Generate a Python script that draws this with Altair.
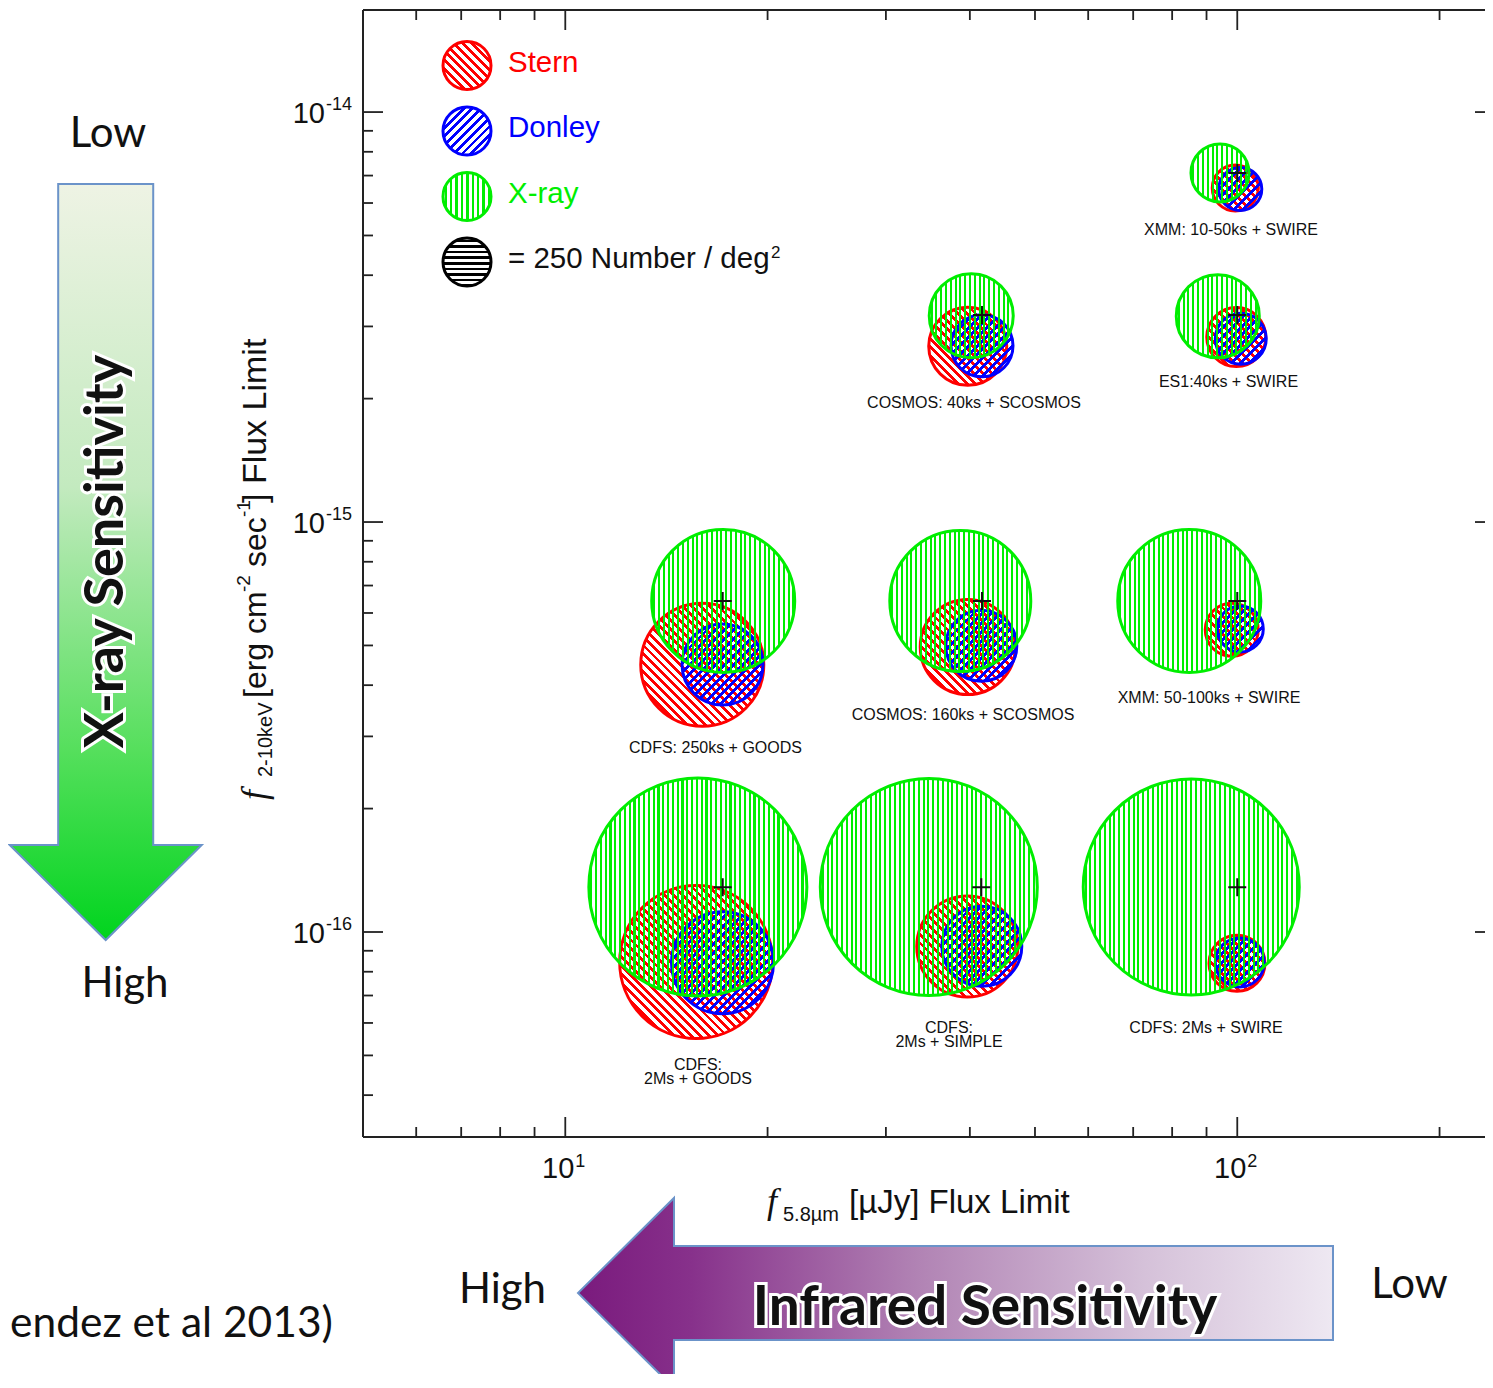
import math
import altair as alt
import pandas as pd

# ---------------- data ----------------
groups = ["XMM: 10-50ks + SWIRE", "ES1:40ks + SWIRE", "COSMOS: 40ks + SCOSMOS",
          "CDFS: 250ks + GOODS", "COSMOS: 160ks + SCOSMOS", "XMM: 50-100ks + SWIRE",
          "CDFS: 2Ms + GOODS", "CDFS: 2Ms + SIMPLE", "CDFS: 2Ms + SWIRE"]
ir_limit = [100, 100, 41.7, 17.15, 41.7, 100, 17.15, 41.6, 100]          # uJy
xray_limit = [7.1e-15, 3.2e-15, 3.2e-15, 6.42e-16, 6.42e-16, 6.42e-16,
              1.285e-16, 1.285e-16, 1.285e-16]                          # erg/cm2/s

# circle centres (IR flux, X-ray flux) and surface density (number / deg^2)
xray_x = [94.25, 93.54, 40.19, 17.18, 38.71, 84.83, 15.75, 34.75, 85.41]
xray_y = [7.106e-15, 3.176e-15, 3.184e-15, 6.418e-16, 6.418e-16, 6.418e-16,
          1.288e-16, 1.288e-16, 1.288e-16]
xray_n = [365, 748, 766, 2219, 2157, 2219, 5157, 5109, 5063]

stern_x = [99.32, 99.66, 39.71, 15.99, 39.71, 98.13, 15.66, 39.65, 99.90]
stern_y = [6.527e-15, 2.826e-15, 2.683e-15, 4.486e-16, 4.956e-16, 5.462e-16,
           8.450e-17, 9.218e-17, 8.389e-17]
stern_n = [230, 378, 660, 1642, 979, 305, 2540, 1107, 340]

donley_x = [101.03, 101.2, 41.70, 17.14, 41.60, 101.03, 17.14, 41.67, 100.86]
donley_y = [6.490e-15, 2.800e-15, 2.690e-15, 4.491e-16, 4.990e-16, 5.483e-16,
            8.417e-17, 9.228e-17, 8.427e-17]
donley_n = [201, 282, 417, 712, 547, 230, 1129, 694, 260]

legend_names = ["Stern", "Donley", "X-ray"]
legend_n = 250

x_major = [10, 100]
x_minor = [6, 7, 8, 9, 20, 30, 40, 50, 60, 70, 80, 90, 200]
y_major = [1e-14, 1e-15, 1e-16]
y_minor = [4e-17, 5e-17, 6e-17, 7e-17, 8e-17, 9e-17,
           2e-16, 3e-16, 4e-16, 5e-16, 6e-16, 7e-16, 8e-16, 9e-16,
           2e-15, 3e-15, 4e-15, 5e-15, 6e-15, 7e-15, 8e-15, 9e-15]

# ---------------- layout / style ----------------
W, H = 1122, 1127
X_DOMAIN = [5.0, 233.7]
Y_DOMAIN = [3.162e-17, 1.774e-14]
LEG_DIAM = 48.0
SIZE_RANGE = [0, LEG_DIAM * LEG_DIAM]

RED, BLUE, GREEN, BLACK = "#ff0000", "#0000ff", "#00ee00", "#111111"
CLEAR = "rgba(255,255,255,0)"
FONT = "Liberation Sans"
SERIF = "Liberation Serif"
DISP = "Lato"

xs = alt.Scale(type="log", domain=X_DOMAIN, nice=False)
ys = alt.Scale(type="log", domain=Y_DOMAIN, nice=False)
ss = alt.Scale(type="linear", domain=[0, legend_n], range=SIZE_RANGE, zero=True)

dummy = pd.DataFrame({"d": [0]})


def hatch(color, diam, period, frac, kind):
    if kind == "v":
        vec, length = (0, 0, 1, 0), diam
    elif kind == "h":
        vec, length = (0, 0, 0, 1), diam
    elif kind == "bs":   # "\" lines
        vec, length = (0, 1, 1, 0), diam * math.sqrt(2)
    else:                # "/" lines
        vec, length = (0, 0, 1, 1), diam * math.sqrt(2)
    stops = []
    t = period * 0.3
    stops.append({"offset": 0, "color": CLEAR})
    stops.append({"offset": round(t / length, 5), "color": CLEAR})
    while t < length:
        a = t / length
        b = min((t + period * frac) / length, 1.0)
        c = min((t + period) / length, 1.0)
        stops += [{"offset": round(a, 5), "color": color},
                  {"offset": round(b, 5), "color": color},
                  {"offset": round(b, 5), "color": CLEAR},
                  {"offset": round(c, 5), "color": CLEAR}]
        t += period
    return {"gradient": "linear", "x1": vec[0], "y1": vec[1], "x2": vec[2],
            "y2": vec[3], "stops": stops}


def diam_of(n):
    return math.sqrt(n * SIZE_RANGE[1] / legend_n)


def circle_layer(x, y, n, color, kind, period, frac=0.45):
    df = pd.DataFrame({"x": [x], "y": [y], "n": [n]})
    return alt.Chart(df).mark_point(
        shape="circle", filled=True, fill=hatch(color, diam_of(n), period, frac, kind),
        stroke=color, strokeWidth=3, opacity=1
    ).encode(
        x=alt.X("x:Q", scale=xs, axis=None),
        y=alt.Y("y:Q", scale=ys, axis=None),
        size=alt.Size("n:Q", scale=ss, legend=None),
    )


def legend_circle(px, py, color, kind, period):
    df = pd.DataFrame({"n": [legend_n]})
    return alt.Chart(df).mark_point(
        shape="circle", filled=True, fill=hatch(color, diam_of(legend_n), period, 0.45, kind),
        stroke=color, strokeWidth=3, opacity=1
    ).encode(x=alt.value(px), y=alt.value(py),
             size=alt.Size("n:Q", scale=ss, legend=None))


def text_layer(s, x, y, size, color=BLACK, font=FONT, align="left",
               baseline="alphabetic", angle=0, weight="normal", style="normal", **kw):
    return alt.Chart(dummy).mark_text(
        text=s, align=align, baseline=baseline, fontSize=size, font=font,
        color=color, angle=angle, fontWeight=weight, fontStyle=style, **kw
    ).encode(x=alt.value(x), y=alt.value(y))


def hrule(y, x1, x2, width=2):
    return alt.Chart(dummy).mark_rule(color="#222222", strokeWidth=width).encode(
        x=alt.value(x1), x2=alt.value(x2), y=alt.value(y))


def vrule(x, y1, y2, width=2):
    return alt.Chart(dummy).mark_rule(color="#222222", strokeWidth=width).encode(
        x=alt.value(x), y=alt.value(y1), y2=alt.value(y2))


layers = []

# ---------------- decorative arrows ----------------
green_grad = {"gradient": "linear", "x1": 0, "y1": 0, "x2": 0, "y2": 1, "stops": [
    {"offset": 0, "color": "#eef3e4"}, {"offset": 0.4, "color": "#c3eabf"},
    {"offset": 0.75, "color": "#55df5c"}, {"offset": 1, "color": "#00d41e"}]}
purple_grad = {"gradient": "linear", "x1": 0, "y1": 0, "x2": 1, "y2": 0, "stops": [
    {"offset": 0, "color": "#7a1a7d"}, {"offset": 0.15, "color": "#87318b"},
    {"offset": 0.45, "color": "#b183b4"}, {"offset": 0.75, "color": "#d5c1d9"},
    {"offset": 1, "color": "#eee8f2"}]}
ARROW_DOWN = ("M-0.1257,-1 L0.1257,-1 L0.1257,0.7487 L0.254,0.7487 L0,1 "
              "L-0.254,0.7487 L-0.1257,0.7487 Z")
ARROW_LEFT = ("M1,-0.1245 L-0.7457,-0.1245 L-0.7457,-0.2517 L-1,0 L-0.7457,0.2517 "
              "L-0.7457,0.1245 L1,0.1245 Z")
layers.append(alt.Chart(dummy).mark_point(
    shape=ARROW_DOWN, size=756 * 756, filled=True, fill=green_grad,
    stroke="#6b93c9", strokeWidth=2, opacity=1
).encode(x=alt.value(-257.3), y=alt.value(552)))
layers.append(alt.Chart(dummy).mark_point(
    shape=ARROW_LEFT, size=755 * 755, filled=True, fill=purple_grad,
    stroke="#6b93c9", strokeWidth=2, opacity=1
).encode(x=alt.value(592.5), y=alt.value(1283)))

layers.append(text_layer("Low", -255, 137, 42, font=DISP, align="center"))
layers.append(text_layer("High", -238, 987, 42, font=DISP, align="center"))
layers.append(text_layer("X-ray Sensitivity", -256, 541.5, 54, font=DISP, align="center",
                         baseline="middle", angle=270, weight="bold",
                         color="white", stroke="white", strokeWidth=6))
layers.append(text_layer("X-ray Sensitivity", -256, 541.5, 54, font=DISP, align="center",
                         baseline="middle", angle=270, weight="bold", color="#111111"))
layers.append(text_layer("High", 139.5, 1293, 42, font=DISP, align="center"))
layers.append(text_layer("Low", 1046.5, 1288, 42, font=DISP, align="center"))
layers.append(text_layer("Infrared Sensitivity", 622, 1315, 55, font=DISP, align="center",
                         weight="bold", color="white", stroke="white", strokeWidth=6))
layers.append(text_layer("Infrared Sensitivity", 622, 1315, 55, font=DISP, align="center",
                         weight="bold", color="#111111"))
layers.append(text_layer("endez et al 2013)", -353, 1327, 42.5, font=DISP, align="left"))

# ---------------- circles ----------------
for i in range(len(groups)):
    layers.append(circle_layer(stern_x[i], stern_y[i], stern_n[i], RED, "bs", 6.2))
for i in range(len(groups)):
    layers.append(circle_layer(donley_x[i], donley_y[i], donley_n[i], BLUE, "fs", 6.2))
for i in range(len(groups)):
    layers.append(circle_layer(xray_x[i], xray_y[i], xray_n[i], GREEN, "v", 4.8, 0.42))

# crosses at the survey flux limits
cross_df = pd.DataFrame({"group": groups, "ir": ir_limit, "xr": xray_limit})
layers.append(alt.Chart(cross_df).mark_point(
    shape="M-1,0L1,0M0,-1L0,1", size=324, filled=False, stroke="#111111",
    strokeWidth=2, opacity=1
).encode(x=alt.X("ir:Q", scale=xs, axis=None), y=alt.Y("xr:Q", scale=ys, axis=None)))

# survey labels
label_pos = [
    ("XMM: 10-50ks + SWIRE", 868, 225),
    ("ES1:40ks + SWIRE", 865.5, 376.5),
    ("COSMOS: 40ks + SCOSMOS", 611, 398),
    ("CDFS: 250ks + GOODS", 352.5, 743),
    ("COSMOS: 160ks + SCOSMOS", 600, 710),
    ("XMM: 50-100ks + SWIRE", 846, 693),
    ("CDFS:\n2Ms + GOODS", 335, 1059.5),
    ("CDFS:\n2Ms + SIMPLE", 586, 1022.5),
    ("CDFS: 2Ms + SWIRE", 843, 1023),
]
for s, x, y in label_pos:
    layers.append(text_layer(s, x, y, 16, align="center", lineBreak="\n", lineHeight=14.5))

# ---------------- legend ----------------
leg_y = [55.5, 121, 186.5, 252]
layers.append(legend_circle(104, leg_y[0], RED, "bs", 6.2))
layers.append(legend_circle(104, leg_y[1], BLUE, "fs", 6.2))
layers.append(legend_circle(104, leg_y[2], GREEN, "v", 5.4))
layers.append(legend_circle(104, leg_y[3], "#000000", "h", 5.6))
for name, col, y in zip(legend_names, [RED, BLUE, GREEN], [61.7, 127.3, 192.7]):
    layers.append(text_layer(name, 145, y, 29.5, color=col))
layers.append(text_layer(f"= {legend_n} Number / deg", 145, 258.3, 29.5))
layers.append(text_layer("2", 408, 248, 17))

# ---------------- frame and ticks ----------------
layers.append(hrule(0, 0, W))
layers.append(hrule(H, 0, W))
layers.append(vrule(0, 0, H))

xmaj = pd.DataFrame({"v": x_major})
xmin = pd.DataFrame({"v": x_minor})
ymaj = pd.DataFrame({"v": y_major, "e": [str(int(round(math.log10(v)))) for v in y_major]})
ymin = pd.DataFrame({"v": y_minor})
xmaj["e"] = [str(int(round(math.log10(v)))) for v in x_major]

TW = 1.8
for df, ln in [(xmaj, 20), (xmin, 10)]:
    layers.append(alt.Chart(df).mark_rule(color="#222222", strokeWidth=TW).encode(
        x=alt.X("v:Q", scale=xs, axis=None), y=alt.value(H), y2=alt.value(H - ln)))
    layers.append(alt.Chart(df).mark_rule(color="#222222", strokeWidth=TW).encode(
        x=alt.X("v:Q", scale=xs, axis=None), y=alt.value(0), y2=alt.value(ln)))
for df, ln in [(ymaj, 20), (ymin, 10)]:
    layers.append(alt.Chart(df).mark_rule(color="#222222", strokeWidth=TW).encode(
        y=alt.Y("v:Q", scale=ys, axis=None), x=alt.value(0), x2=alt.value(ln)))
layers.append(alt.Chart(ymaj).mark_rule(color="#222222", strokeWidth=TW).encode(
    y=alt.Y("v:Q", scale=ys, axis=None), x=alt.value(W - 10), x2=alt.value(W)))

# tick labels 10^n
layers.append(alt.Chart(ymaj).mark_text(text="10", align="right", baseline="alphabetic",
                                        fontSize=29, font=FONT, color=BLACK, dy=10.5).encode(
    y=alt.Y("v:Q", scale=ys, axis=None), x=alt.value(-38)))
layers.append(alt.Chart(ymaj).mark_text(align="left", baseline="alphabetic",
                                        fontSize=18, font=FONT, color=BLACK, dy=-2).encode(
    y=alt.Y("v:Q", scale=ys, axis=None), x=alt.value(-37), text="e:N"))
layers.append(alt.Chart(xmaj).mark_text(text="10", align="right", baseline="alphabetic",
                                        fontSize=29, font=FONT, color=BLACK, dx=9).encode(
    x=alt.X("v:Q", scale=xs, axis=None), y=alt.value(1168)))
layers.append(alt.Chart(xmaj).mark_text(align="left", baseline="alphabetic",
                                        fontSize=18, font=FONT, color=BLACK, dx=10).encode(
    x=alt.X("v:Q", scale=xs, axis=None), y=alt.value(1157), text="e:N"))

# axis titles
layers.append(text_layer("f", 404, 1203, 36, font=SERIF, style="italic"))
layers.append(text_layer("5.8\u00b5m", 420, 1211, 20))
layers.append(text_layer("[\u00b5Jy] Flux Limit", 486, 1203, 33))

layers.append(text_layer("f", -97, 790, 36, font=SERIF, style="italic", angle=270))
layers.append(text_layer("2-10keV", -91, 767, 20, angle=270))
layers.append(text_layer("[erg cm", -97, 688, 32, angle=270))
layers.append(text_layer("-2", -113, 582, 19, angle=270))
layers.append(text_layer("sec", -97, 557, 32, angle=270))
layers.append(text_layer("-1", -113, 507, 19, angle=270))
layers.append(text_layer("] Flux Limit", -97, 493, 34, angle=270))

chart = alt.layer(*layers).properties(
    width=W, height=H,
    padding={"left": 355, "top": 2, "right": 0, "bottom": 237},
    autosize=alt.AutoSizeParams(type="none"),
).configure_view(stroke=None)

chart.save("out.html", embed_options={"renderer": "svg", "actions": False})
